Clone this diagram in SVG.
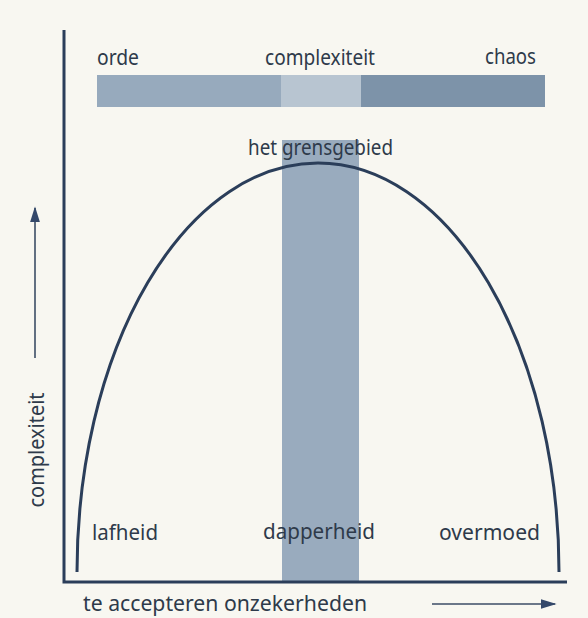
<svg xmlns="http://www.w3.org/2000/svg" width="588" height="618" viewBox="0 0 588 618">
<defs>
<style>
.t{font-family:"Noto Sans","Open Sans",sans-serif;font-size:21.5px;fill:#2e3a4a}
.ax{stroke:#2b3e5a;stroke-width:3;fill:none}
.cv{stroke:#2b3e5a;stroke-width:3;fill:none}
.ar{stroke:#3c4d66;stroke-width:1.6;fill:none}
</style>
<marker id="ah2" viewBox="0 0 10 10" refX="9" refY="5" markerWidth="16" markerHeight="10" markerUnits="userSpaceOnUse" orient="auto" preserveAspectRatio="none">
<path d="M0,0 L10,5 L0,10 z" fill="#34486a"/>
</marker>
</defs>
<rect x="0" y="0" width="588" height="618" fill="#f8f7f1"/>

<g id="spectrum">
<rect x="97" y="75" width="184" height="32" fill="#97aabd"/>
<rect x="281" y="75" width="80" height="32" fill="#b8c5d1"/>
<rect x="361" y="75" width="184" height="32" fill="#7d93a9"/>
<text class="t" x="97" y="65" textLength="42" lengthAdjust="spacingAndGlyphs">orde</text>
<text class="t" x="265" y="65" textLength="110" lengthAdjust="spacingAndGlyphs">complexiteit</text>
<text class="t" x="536" y="64" text-anchor="end" textLength="51" lengthAdjust="spacingAndGlyphs">chaos</text>
</g>

<g id="grensgebied">
<rect x="282" y="140" width="77" height="441" fill="#99abbe"/>
<text class="t" x="248" y="155" textLength="145" lengthAdjust="spacingAndGlyphs">het grensgebied</text>
</g>

<g id="connectors">
<path class="cv" d="M77,572 A241,409 0 0 1 559,572"/>
<path class="ax" d="M64,30 V582 H567"/>
<line class="ar" x1="35" y1="358" x2="35" y2="208" marker-end="url(#ah2)"/>
<line class="ar" x1="432" y1="604" x2="555" y2="604" marker-end="url(#ah2)"/>
</g>

<g id="yaxis-label">
<text class="t" transform="translate(44,450) rotate(-90)" text-anchor="middle" textLength="115" lengthAdjust="spacingAndGlyphs">complexiteit</text>
</g>

<g id="lafheid"><text class="t" x="92" y="540" textLength="66" lengthAdjust="spacingAndGlyphs">lafheid</text></g>
<g id="dapperheid"><text class="t" x="263" y="539" textLength="112" lengthAdjust="spacingAndGlyphs">dapperheid</text></g>
<g id="overmoed"><text class="t" x="439" y="540" textLength="101" lengthAdjust="spacingAndGlyphs">overmoed</text></g>
<g id="xaxis-label"><text class="t" x="83" y="611" textLength="284" lengthAdjust="spacingAndGlyphs">te accepteren onzekerheden</text></g>
</svg>
